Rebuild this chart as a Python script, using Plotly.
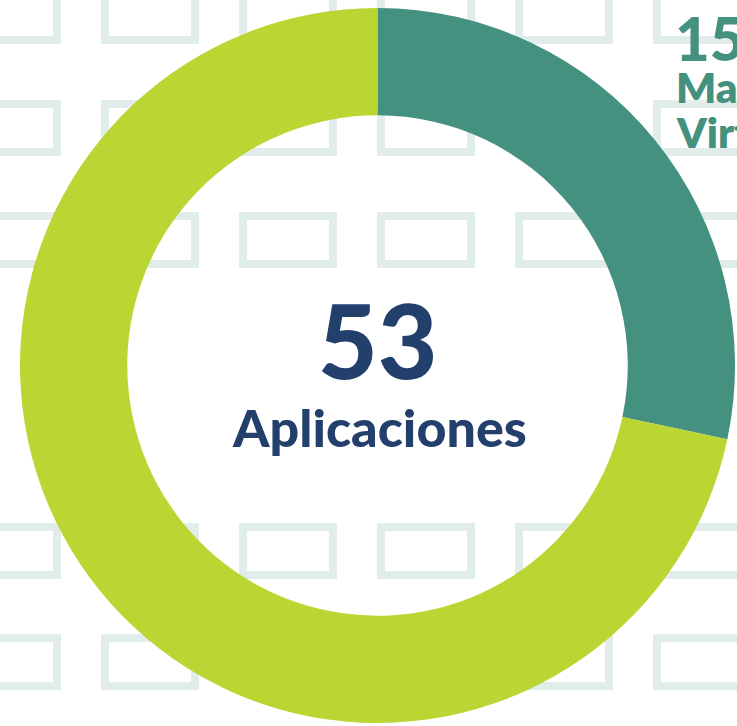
import plotly.graph_objects as go

# Data
labels = ["Máquinas Virtuales", "Otras aplicaciones"]
values = [15, 38]
total_label = "Aplicaciones"
colors = ["#45917F", "#BBD532"]

total = sum(values)

W, H = 737, 726
fig = go.Figure()

fig.add_trace(go.Pie(
    labels=labels,
    values=values,
    sort=False,
    direction="clockwise",
    rotation=0,
    hole=0.70,
    marker=dict(colors=colors, line=dict(width=0)),
    textinfo="none",
    hoverinfo="label+value",
    showlegend=False,
    domain=dict(x=[20 / W, 735 / W], y=[3 / H, 718 / H]),
))

# decorative background pattern of rectangle outlines
col_lefts = [-37, 101, 239, 377, 515, 653]
row_tops = [-12, 100, 212, 523, 634]
rw, rh, sw = 98, 56, 8
shapes = []
for top in row_tops:
    for left in col_lefts:
        shapes.append(dict(
            type="rect", xref="x", yref="y", layer="below",
            x0=left + sw / 2, x1=left + rw - sw / 2,
            y0=top + sw / 2, y1=top + rh - sw / 2,
            line=dict(color="#E1EDEA", width=sw), fillcolor="rgba(0,0,0,0)",
        ))

navy = "#233F6C"
teal = colors[0]
font_family = "Lato"
annotations = [
    dict(x=377, y=339, xref="x", yref="y", text=str(total), showarrow=False,
         xanchor="center", yanchor="middle",
         font=dict(family=font_family, size=103, color=navy, weight=900)),
    dict(x=379, y=427, xref="x", yref="y", text=total_label, showarrow=False,
         xanchor="center", yanchor="middle",
         font=dict(family=font_family, size=52, color=navy, weight=900)),
    dict(x=673, y=38, xref="x", yref="y", text=str(values[0]), showarrow=False,
         xanchor="left", yanchor="middle",
         font=dict(family=font_family, size=60, color=teal, weight=900)),
]
words = labels[0].split(" ")
annotations.append(dict(x=674, y=87, xref="x", yref="y", text=words[0].replace("á", "a"),
                        showarrow=False, xanchor="left", yanchor="middle",
                        font=dict(family=font_family, size=42, color=teal, weight=800)))
annotations.append(dict(x=674, y=132, xref="x", yref="y", text=words[1], showarrow=False,
                        xanchor="left", yanchor="middle",
                        font=dict(family=font_family, size=42, color=teal, weight=800)))

fig.update_layout(
    width=W, height=H,
    margin=dict(l=0, r=0, t=0, b=0),
    paper_bgcolor="white", plot_bgcolor="rgba(0,0,0,0)",
    xaxis=dict(range=[0, W], visible=False, fixedrange=True),
    yaxis=dict(range=[H, 0], visible=False, fixedrange=True),
    shapes=shapes,
    annotations=annotations,
)

fig.write_html(
    "out.html",
    config={"displayModeBar": False},
    post_script="document.body.style.margin='0';document.body.style.overflow='hidden';",
)
